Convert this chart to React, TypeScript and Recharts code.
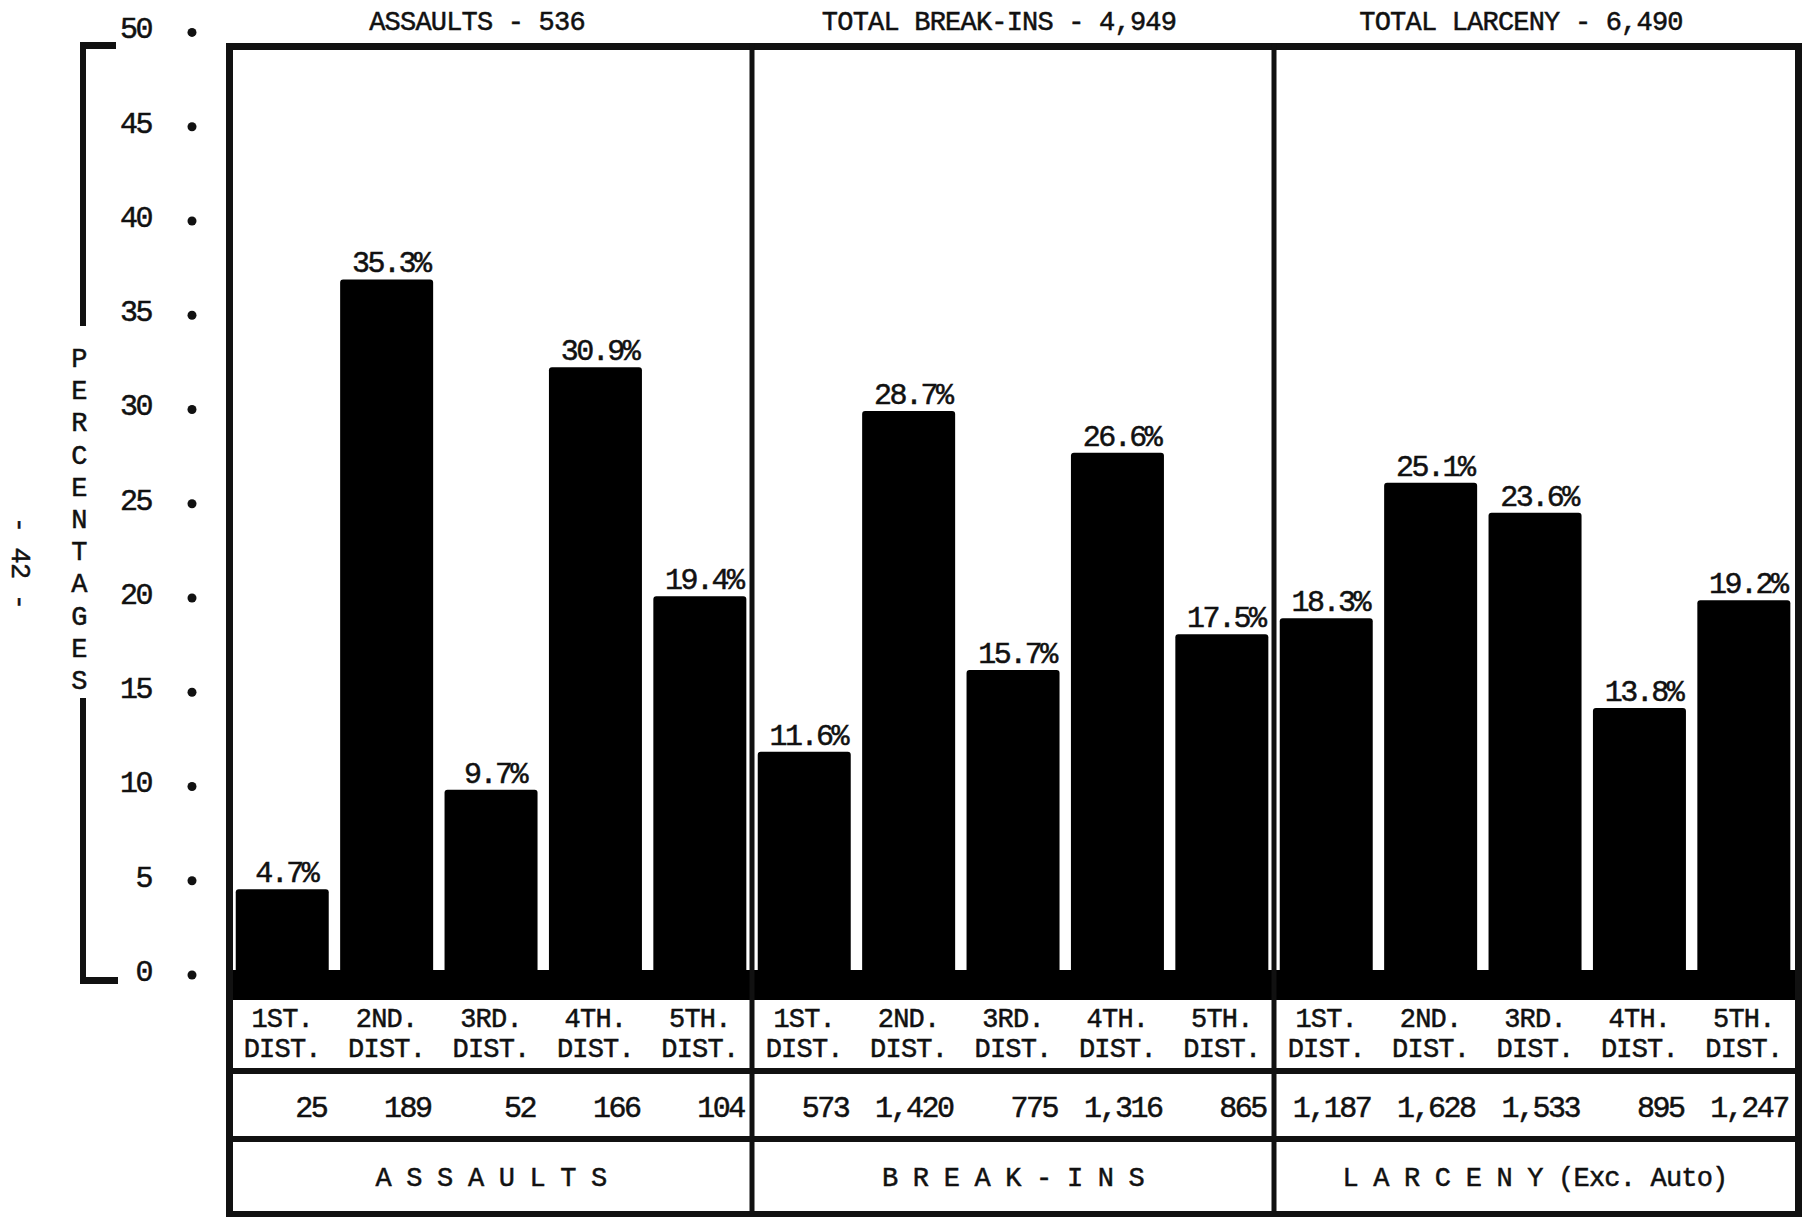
import React from 'react'
import { BarChart, Bar, XAxis, YAxis, ReferenceArea, LabelList } from 'recharts'

// districts and group titles
const districts = ['1ST.', '2ND.', '3RD.', '4TH.', '5TH.']
const distSuffix = 'DIST.'
const groupHeaders = ['ASSAULTS - 536', 'TOTAL BREAK-INS - 4,949', 'TOTAL LARCENY - 6,490']
const groupNames = ['A S S A U L T S', 'B R E A K - I N S', 'L A R C E N Y (Exc. Auto)']

// percentages per district
const assaultPct = [4.7, 35.3, 9.7, 30.9, 19.4]
const breakInPct = [11.6, 28.7, 15.7, 26.6, 17.5]
const larcenyPct = [18.3, 25.1, 23.6, 13.8, 19.2]

// counts per district
const assaultCount = [25, 189, 52, 166, 104]
const breakInCount = [573, 1420, 775, 1316, 865]
const larcenyCount = [1187, 1628, 1533, 895, 1247]

const yTicks = [0, 5, 10, 15, 20, 25, 30, 35, 40, 45, 50]
const axisTitle = 'PERCENTAGES'
const pageNumber = '- 42 -'

const pctGroups = [assaultPct, breakInPct, larcenyPct]
const countGroups = [assaultCount, breakInCount, larcenyCount]

const data = pctGroups.flatMap((pcts, g) =>
  pcts.map((pct, i) => ({
    key: `${g}-${i}`,
    dist: districts[i],
    pct,
    count: countGroups[g][i],
    header: groupHeaders[g],
    name: groupNames[g],
  }))
)

const W = 1803
const H = 1217
const PLOT = { left: 230, right: 1796, top: 20, bottom: 1000 }
const band = (PLOT.right - PLOT.left) / data.length

const font = "'Liberation Mono', 'DejaVu Sans Mono', monospace"
const typed = {
  fontFamily: font,
  fontSize: 27,
  letterSpacing: -0.8,
  fill: '#111',
  stroke: '#111',
  strokeWidth: 0.5,
}
const nums = {
  fontFamily: font,
  fontSize: 30,
  letterSpacing: -2.5,
  fill: '#111',
  stroke: '#111',
  strokeWidth: 0.5,
}

const YTick = ({ y, payload }: any) => (
  <g>
    <text x={151} y={y + 6} textAnchor="end" {...nums}>
      {payload.value}
    </text>
    <circle cx={192} cy={y} r={4.5} fill="#111" />
  </g>
)

const DistTick = ({ x, y, payload }: any) => {
  const row = data.find((d) => d.key === payload.value)
  return (
    <g>
      <text x={x} y={y + 27} textAnchor="middle" {...typed}>
        {row ? row.dist : ''}
      </text>
      <text x={x} y={y + 57} textAnchor="middle" {...typed}>
        {distSuffix}
      </text>
    </g>
  )
}

const CountTick = ({ x, y, payload }: any) => {
  const row = data.find((d) => d.key === payload.value)
  return (
    <text x={x + 44} y={y + 46} textAnchor="end" {...nums}>
      {row ? row.count.toLocaleString('en-US') : ''}
    </text>
  )
}

const NameTick = ({ x, y, payload }: any) => (
  <text x={x} y={y + 47} textAnchor="middle" {...typed}>
    {payload.value}
  </text>
)

const HeadTick = ({ x, y, payload }: any) => (
  <text x={x - 14} y={y + 10} textAnchor="middle" {...typed}>
    {payload.value}
  </text>
)

const PctLabel = (props: any) => {
  const { x, y, width, value } = props
  return (
    <text x={Number(x) + Number(width) / 2 + 4} y={Number(y) - 7} textAnchor="middle" {...nums}>
      {`${value}%`}
    </text>
  )
}

const Frame = () => {
  const d1 = PLOT.left + band * 5
  const d2 = PLOT.left + band * 10
  const t = 43
  return (
    <svg
      width={W}
      height={H}
      style={{ position: 'absolute', left: 0, top: 0, pointerEvents: 'none' }}
    >
      {/* outer frame + table */}
      <rect x={226} y={t} width={1576} height={7} fill="#111" />
      <rect x={226} y={t} width={7} height={H - t} fill="#111" />
      <rect x={1795} y={t} width={7} height={H - t} fill="#111" />
      <rect x={d1 - 2.5} y={t} width={5} height={H - t} fill="#111" />
      <rect x={d2 - 2.5} y={t} width={5} height={H - t} fill="#111" />
      <rect x={226} y={1068} width={1576} height={6} fill="#111" />
      <rect x={226} y={1136} width={1576} height={6} fill="#111" />
      <rect x={226} y={1211} width={1576} height={6} fill="#111" />
      {/* bracket around axis title */}
      <rect x={80} y={42} width={6} height={284} fill="#111" />
      <rect x={80} y={42} width={36} height={7} fill="#111" />
      <rect x={80} y={698} width={6} height={286} fill="#111" />
      <rect x={80} y={977} width={38} height={7} fill="#111" />
      {axisTitle.split('').map((ch, i) => (
        <text key={i} x={79} y={367 + i * 32.2} textAnchor="middle" {...typed}>
          {ch}
        </text>
      ))}
      <text
        x={19}
        y={563}
        textAnchor="middle"
        dominantBaseline="central"
        transform="rotate(90 19 563)"
        {...typed}
      >
        {pageNumber}
      </text>
    </svg>
  )
}

export default function App() {
  return (
    <div
      style={{ position: 'absolute', left: 0, top: 0, width: W, height: H, background: '#fff' }}
    >
      <BarChart
        width={W}
        height={H}
        data={data}
        margin={{ top: 0, right: W - PLOT.right, bottom: 0, left: 0 }}
        barCategoryGap="5.5%"
      >
        <XAxis
          xAxisId="row1dist"
          dataKey="key"
          height={71}
          interval={0}
          tickSize={0}
          tickMargin={0}
          axisLine={false}
          tickLine={false}
          tick={(p: any) => <DistTick {...p} />}
        />
        <XAxis
          xAxisId="row2count"
          dataKey="key"
          height={68}
          interval={0}
          tickSize={0}
          tickMargin={0}
          axisLine={false}
          tickLine={false}
          tick={(p: any) => <CountTick {...p} />}
        />
        <XAxis
          xAxisId="row3name"
          dataKey="name"
          allowDuplicatedCategory={false}
          height={78}
          interval={0}
          tickSize={0}
          tickMargin={0}
          axisLine={false}
          tickLine={false}
          tick={(p: any) => <NameTick {...p} />}
        />
        <XAxis
          xAxisId="head"
          orientation="top"
          dataKey="header"
          allowDuplicatedCategory={false}
          height={PLOT.top}
          interval={0}
          tickSize={0}
          tickMargin={0}
          axisLine={false}
          tickLine={false}
          tick={(p: any) => <HeadTick {...p} />}
        />
        <YAxis
          yAxisId="ticks"
          width={PLOT.left}
          type="number"
          domain={[-1.326, 50.66]}
          allowDataOverflow
          ticks={yTicks}
          interval={0}
          tickSize={0}
          tickMargin={0}
          axisLine={false}
          tickLine={false}
          tick={(p: any) => <YTick {...p} />}
        />
        <YAxis yAxisId="bars" hide type="number" domain={[-0.853, 48.32]} allowDataOverflow />
        <ReferenceArea
          xAxisId="row1dist"
          yAxisId="bars"
          y1={-0.853}
          y2={0.652}
          fill="#000"
          fillOpacity={1}
          stroke="none"
        />
        <Bar
          xAxisId="row1dist"
          yAxisId="bars"
          dataKey="pct"
          fill="#000"
          radius={[3, 3, 0, 0]}
          isAnimationActive={false}
        >
          <LabelList dataKey="pct" content={(p: any) => <PctLabel {...p} />} />
        </Bar>
      </BarChart>
      <Frame />
    </div>
  )
}
